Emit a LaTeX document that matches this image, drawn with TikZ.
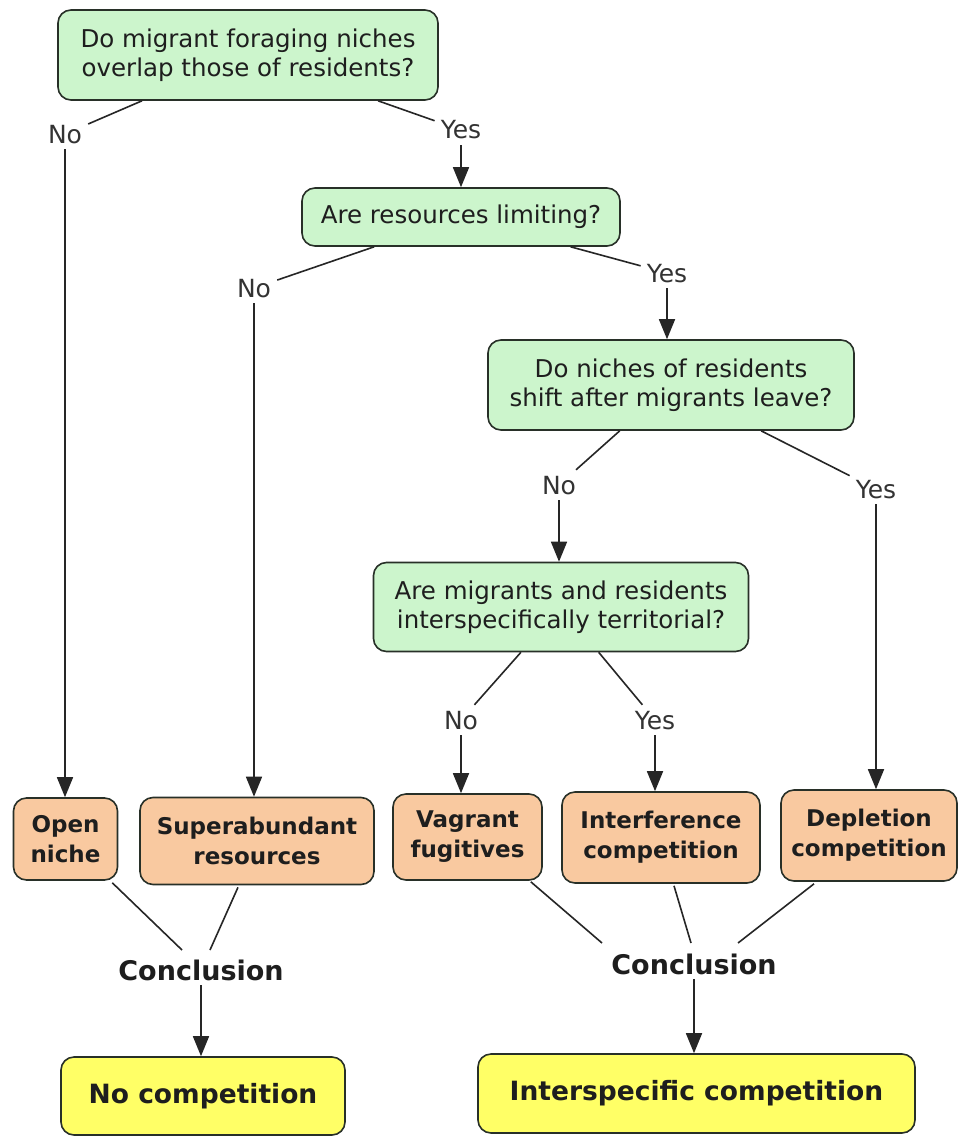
\documentclass[tikz,border=0pt]{standalone}
\usepackage{fontspec}
\setmainfont{DejaVu Sans}
\usetikzlibrary{arrows.meta,calc}
\definecolor{qgreen}{RGB}{204,245,204}
\definecolor{aorange}{RGB}{249,201,160}
\definecolor{cyellow}{RGB}{255,255,102}
\definecolor{edgec}{RGB}{40,48,40}
\definecolor{txtc}{RGB}{30,30,30}
\begin{document}
\begin{tikzpicture}[x=1pt,y=-1pt,
  question/.style={draw=edgec,line width=1.6pt,fill=qgreen,rounded corners=13pt,align=center,
     font=\fontsize{24.5}{29}\selectfont,text=txtc,inner sep=0pt},
  answer/.style={draw=edgec,line width=1.6pt,fill=aorange,rounded corners=13pt,align=center,
     font=\fontsize{23}{30}\selectfont\bfseries,text=txtc,inner sep=0pt},
  final/.style={draw=edgec,line width=1.6pt,fill=cyellow,rounded corners=13pt,align=center,
     font=\fontsize{26.5}{30}\selectfont\bfseries,text=txtc,inner sep=0pt},
  lbl/.style={font=\fontsize{25}{29}\selectfont,text=black!80,text height=18pt,text depth=0pt,inner sep=6pt},
  concl/.style={font=\fontsize{27}{30}\selectfont\bfseries,text=txtc,text height=20pt,text depth=0pt,inner sep=5pt},
  conn/.style={draw=black!85,line width=1.6pt},
  arr/.style={conn,-{Triangle[length=20pt,width=16pt]}}
]
\useasboundingbox (0,0) rectangle (964,1137);
\fill[white] (0,0) rectangle (964,1137);

% questions
\node[question,minimum width=380pt,minimum height=90pt] (q1) at (248,55) {Do migrant foraging niches\\overlap those of residents?};
\node[question,minimum width=318pt,minimum height=58pt] (q2) at (461,217) {Are resources limiting?};
\node[question,minimum width=366pt,minimum height=90pt] (q3) at (671,385) {Do niches of residents\\shift after migrants leave?};
\node[question,minimum width=375pt,minimum height=89pt] (q4) at (561,607) {Are migrants and residents\\interspecifically territorial?};

% answers
\node[answer,minimum width=104pt,minimum height=82pt] (open) at (65.5,839) {Open\\niche};
\node[answer,minimum width=234pt,minimum height=87pt] (sup) at (257,841) {Superabundant\\resources};
\node[answer,minimum width=149pt,minimum height=86pt] (vag) at (467.5,837) {Vagrant\\fugitives};
\node[answer,minimum width=198pt,minimum height=91pt] (int) at (661,837.5) {Interference\\competition};
\node[answer,minimum width=176pt,minimum height=91pt] (dep) at (869,835.5) {Depletion\\competition};

% finals
\node[final,minimum width=284pt,minimum height=78pt] (nocomp) at (203,1096) {No competition};
\node[final,minimum width=437pt,minimum height=79pt] (intcomp) at (696.5,1093.5) {Interspecific competition};

% labels
\node[lbl] (no1) at (65,134) {No};
\node[lbl] (yes1) at (461,130) {Yes};
\node[lbl] (no2) at (254,288) {No};
\node[lbl] (yes2) at (667,273) {Yes};
\node[lbl] (no3) at (559,485) {No};
\node[lbl] (yes3) at (876,489) {Yes};
\node[lbl] (no4) at (461,720) {No};
\node[lbl] (yes4) at (655,720) {Yes};
\node[concl] (c1) at (201,970) {Conclusion};
\node[concl] (c2) at (694,964) {Conclusion};

% connectors from questions to labels
\draw[conn] (q1) -- (no1);
\draw[conn] (q1) -- (yes1);
\draw[conn] (q2) -- (no2);
\draw[conn] (q2) -- (yes2);
\draw[conn] (q3) -- (no3);
\draw[conn] (q3) -- (yes3);
\draw[conn] (q4) -- (no4);
\draw[conn] (q4) -- (yes4);

% arrows from labels to nodes
\draw[arr] (no1) -- (no1 |- open.north);
\draw[arr] (yes1) -- (yes1 |- q2.north);
\draw[arr] (no2) -- (no2 |- sup.north);
\draw[arr] (yes2) -- (yes2 |- q3.north);
\draw[arr] (no3) -- (no3 |- q4.north);
\draw[arr] (yes3) -- (yes3 |- dep.north);
\draw[arr] (no4) -- (no4 |- vag.north);
\draw[arr] (yes4) -- (yes4 |- int.north);

% to conclusions
\draw[conn] ($(open.south east)+(-6,2)$) -- ($(c1.center)+(-19,-20)$);
\draw[conn] ($(sup.south)+(-19,2)$) -- ($(c1.center)+(9,-20)$);
\draw[conn] ($(vag.south east)+(-12,1)$) -- ($(c2.center)+(-92,-21)$);
\draw[conn] ($(int.south)+(13,2)$) -- ($(c2.center)+(-3,-21)$);
\draw[conn] ($(dep.south)+(-55,2)$) -- ($(c2.center)+(44,-21)$);

\draw[arr] (c1) -- (c1 |- nocomp.north);
\draw[arr] (c2) -- (c2 |- intcomp.north);
\end{tikzpicture}
\end{document}
